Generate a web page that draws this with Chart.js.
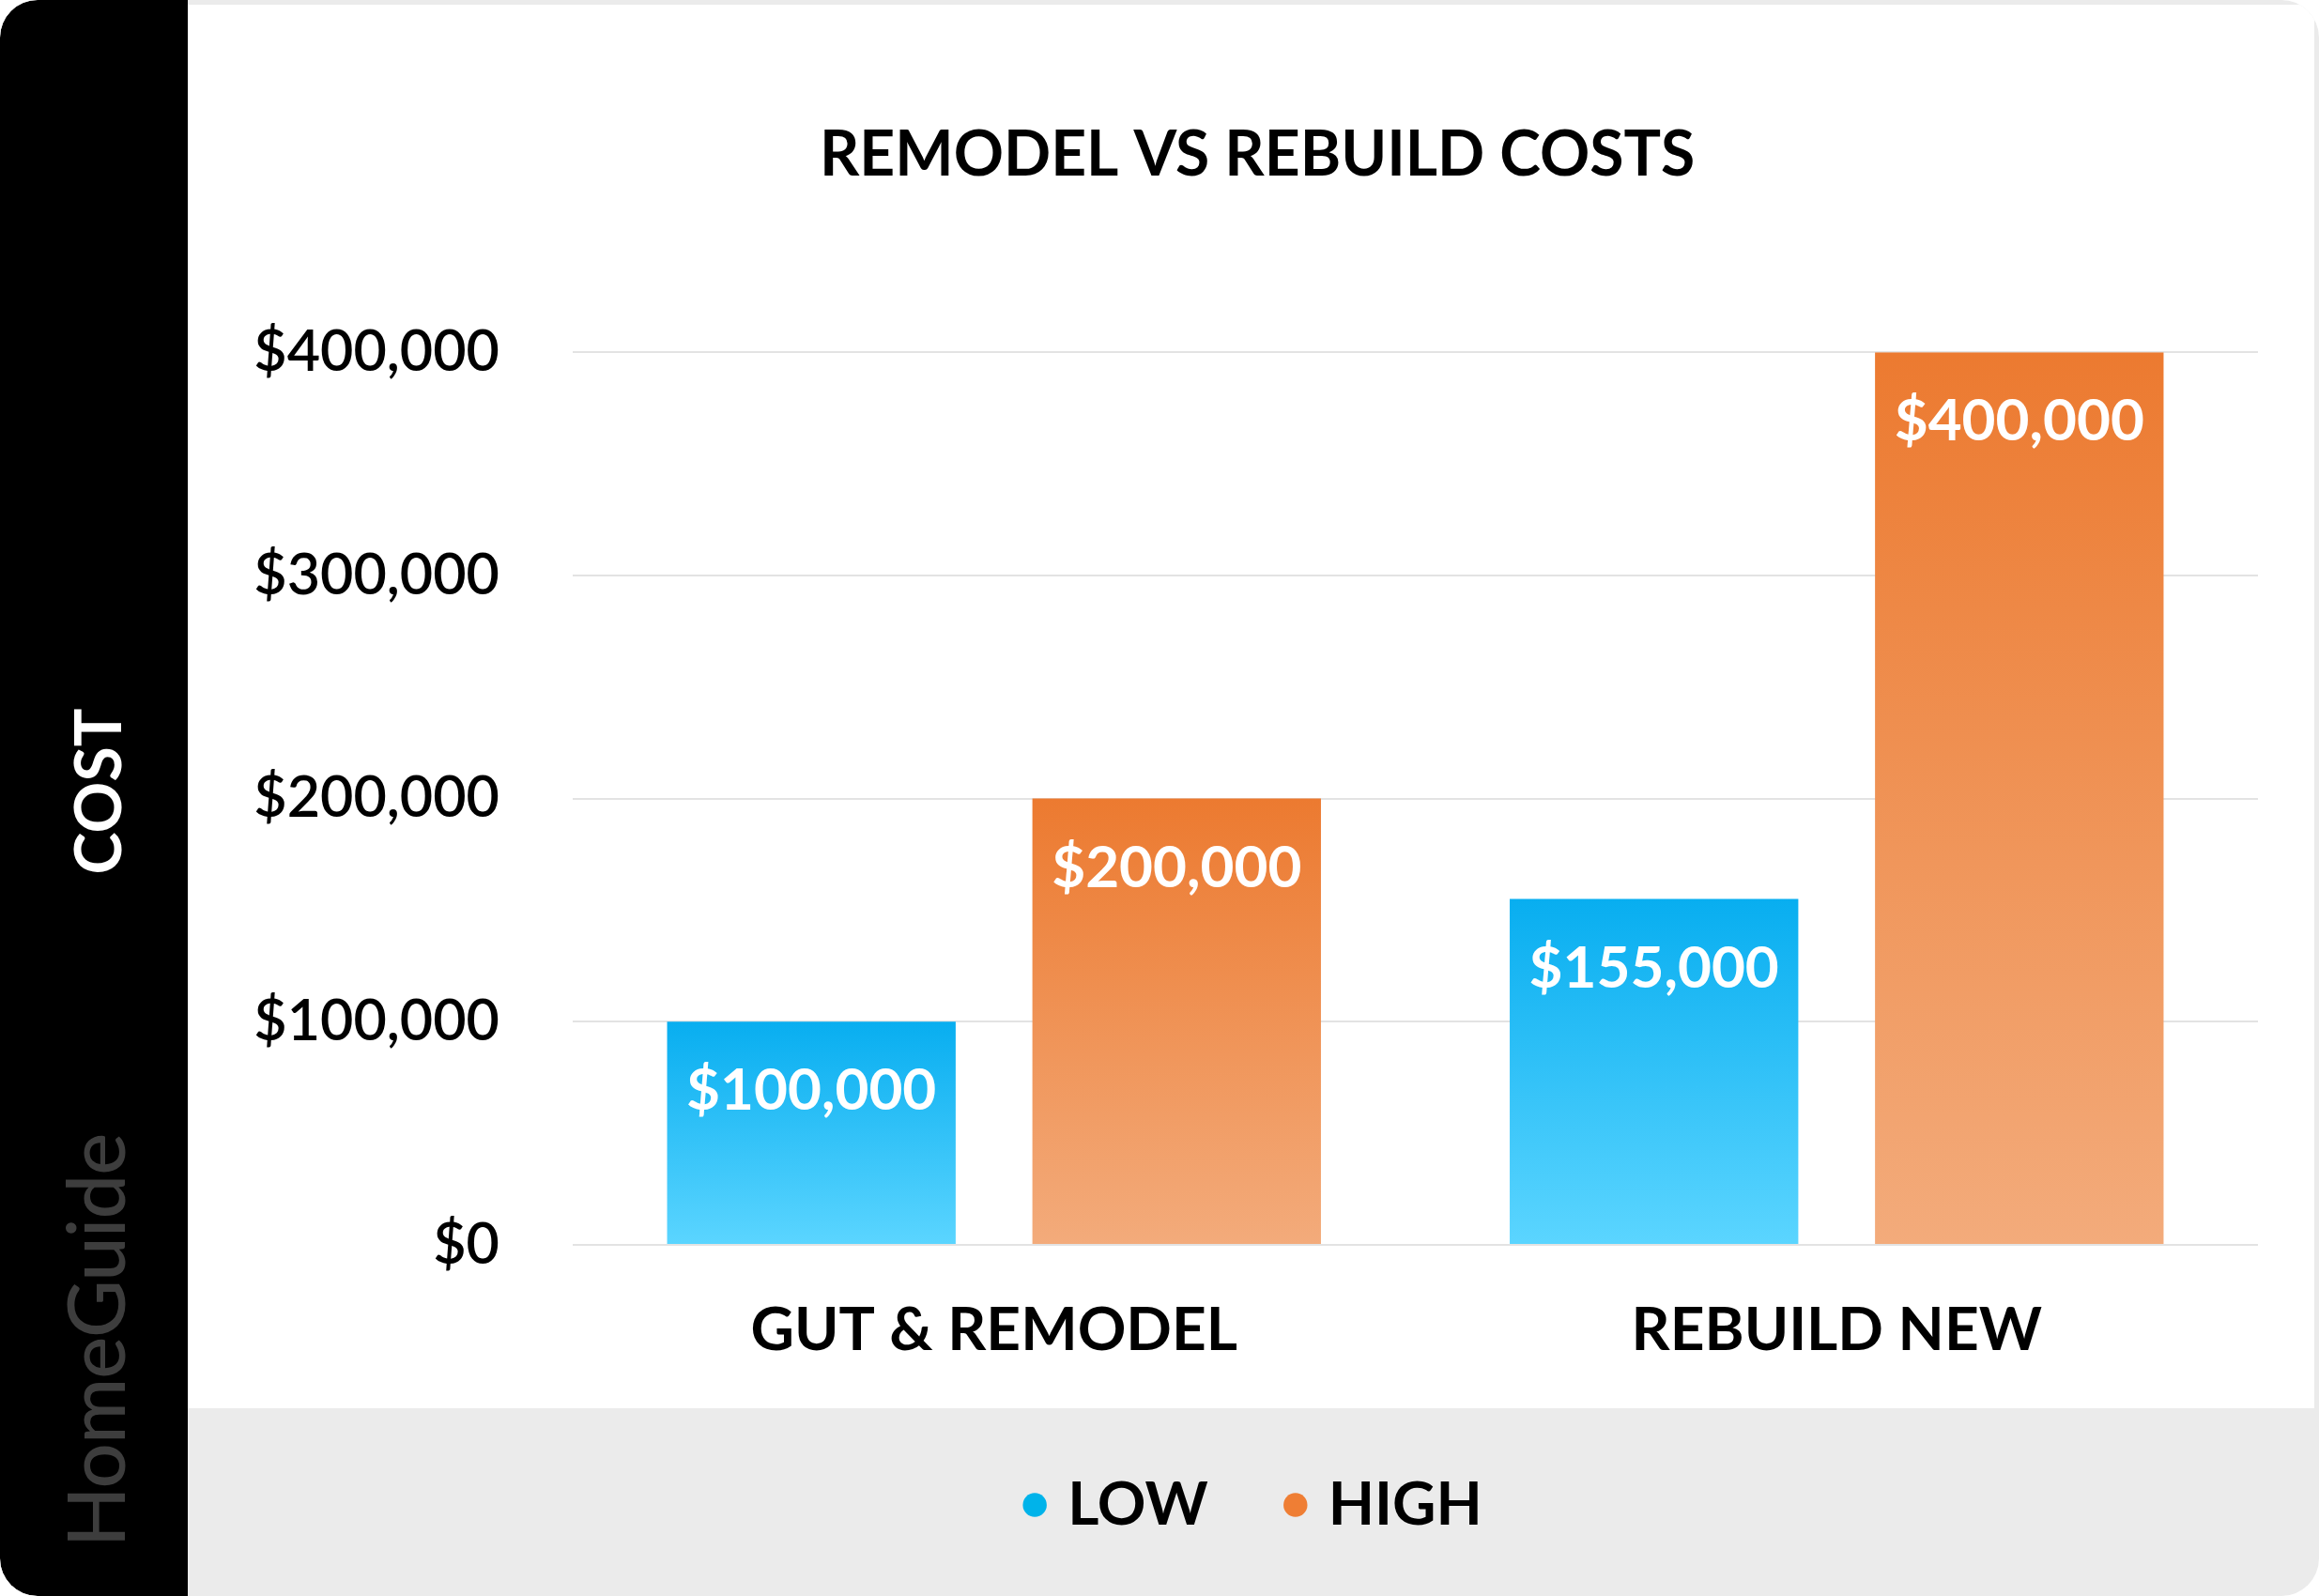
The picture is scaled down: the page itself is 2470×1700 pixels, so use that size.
<!DOCTYPE html>
<html>
<head>
<meta charset="utf-8">
<script src="https://cdn.jsdelivr.net/npm/chart.js@4"></script>
<style>
  html, body { margin: 0; padding: 0; background: #ffffff; }
  #card { position: absolute; left: 0; top: 0; width: 2470px; height: 1700px; background: #ebebeb; border-radius: 40px; overflow: hidden; }
  #panel { position: absolute; left: 200px; top: 5px; width: 2265px; height: 1495px; background: #ffffff; }
  #side { position: absolute; left: 0; top: 0; width: 200px; height: 1700px; background: #000000; border-radius: 40px 0 0 40px; }
  .vert { position: absolute; transform: translate(-50%, -50%) rotate(-90deg); white-space: nowrap; font-family: Lato, sans-serif; }
  #cost { left: 102px; top: 843px; color: #ffffff; font-size: 68px; font-weight: bold; }
  #brand { left: 100px; top: 1428px; color: #3d3d3d; font-size: 85px; font-weight: 500; letter-spacing: -1px; }
  #chart { position: absolute; left: 200px; top: 5px; }
</style>
</head>
<body>
<div id="card">
  <div id="panel"></div>
  <div id="side"></div>
  <div class="vert" id="cost">COST</div>
  <div class="vert" id="brand">HomeGuide</div>
  <canvas id="chart" width="2265" height="1695"></canvas>
</div>
<script>
// donnees du graphique
const categories = ['GUT & REMODEL', 'REBUILD NEW'];
const seriesNames = ['LOW', 'HIGH'];
const lowCosts = [100000, 155000];
const highCosts = [200000, 400000];
const yTicks = [0, 100000, 200000, 300000, 400000];

// couleurs (haut / bas du degrade, puce de legende)
const lowColors = ['#08aef0', '#5bd5ff'];
const highColors = ['#ec7a30', '#f3ab7b'];
const legendColors = ['#00b3ea', '#ef7e34'];

const money = v => '$' + Number(v).toLocaleString('en-US');

// degrade vertical propre a chaque barre
function barGradient(colors) {
  return function(context) {
    const chart = context.chart;
    if (!chart.chartArea || context.raw === undefined) return colors[0];
    const y = chart.scales.y;
    const top = y.getPixelForValue(context.raw);
    const bottom = y.getPixelForValue(0);
    const g = chart.ctx.createLinearGradient(0, top, 0, bottom);
    g.addColorStop(0, colors[0]);
    g.addColorStop(1, colors[1]);
    return g;
  };
}

// etiquettes blanches dans le haut des barres
const barLabels = {
  id: 'barLabels',
  afterDatasetsDraw(chart) {
    const ctx = chart.ctx;
    ctx.save();
    ctx.fillStyle = '#ffffff';
    ctx.font = 'bold 62px Lato, sans-serif';
    ctx.textAlign = 'center';
    ctx.textBaseline = 'middle';
    chart.data.datasets.forEach((ds, i) => {
      chart.getDatasetMeta(i).data.forEach((bar, j) => {
        ctx.fillText(money(ds.data[j]), bar.x, bar.y + 74);
      });
    });
    ctx.restore();
  }
};

Chart.defaults.font.family = 'Lato, sans-serif';
Chart.defaults.color = '#000000';

new Chart(document.getElementById('chart'), {
  type: 'bar',
  data: {
    labels: categories,
    datasets: [
      { label: seriesNames[0], data: lowCosts, backgroundColor: barGradient(lowColors) },
      { label: seriesNames[1], data: highCosts, backgroundColor: barGradient(highColors) }
    ]
  },
  options: {
    responsive: false,
    devicePixelRatio: 1,
    animation: false,
    categoryPercentage: 0.867,
    barPercentage: 0.79,
    layout: { padding: { top: 0, right: 60, bottom: 55, left: 73 } },
    plugins: {
      tooltip: { enabled: false },
      title: {
        display: true,
        text: 'REMODEL VS REBUILD COSTS',
        color: '#000000',
        font: { size: 66, weight: 'bold' },
        padding: { top: 121, bottom: 170 }
      },
      legend: {
        position: 'bottom',
        labels: {
          usePointStyle: true,
          pointStyle: 'circle',
          boxWidth: 6,
          boxHeight: 18,
          padding: 90,
          color: '#000000',
          font: { size: 64, weight: 'bold' },
          generateLabels: () => seriesNames.map((name, i) => ({
            text: name,
            fillStyle: legendColors[i],
            strokeStyle: legendColors[i],
            lineWidth: 0,
            pointStyle: 'circle',
            datasetIndex: i
          }))
        }
      }
    },
    scales: {
      x: {
        grid: { display: false, drawTicks: false },
        border: { display: false },
        ticks: { padding: 53, color: '#000000', font: { size: 64, weight: 'bold' } },
        afterFit(scale) { scale.height = 155; }
      },
      y: {
        min: 0,
        max: 400000,
        afterBuildTicks(scale) { scale.ticks = yTicks.map(v => ({ value: v })); },
        grid: { color: '#e3e3e3', lineWidth: 2, drawTicks: false },
        border: { display: false },
        ticks: { padding: 78, color: '#000000', font: { size: 61, weight: '600' }, callback: v => money(v) },
        afterFit(scale) { scale.width = 337; }
      }
    }
  },
  plugins: [barLabels]
});
</script>
</body>
</html>
